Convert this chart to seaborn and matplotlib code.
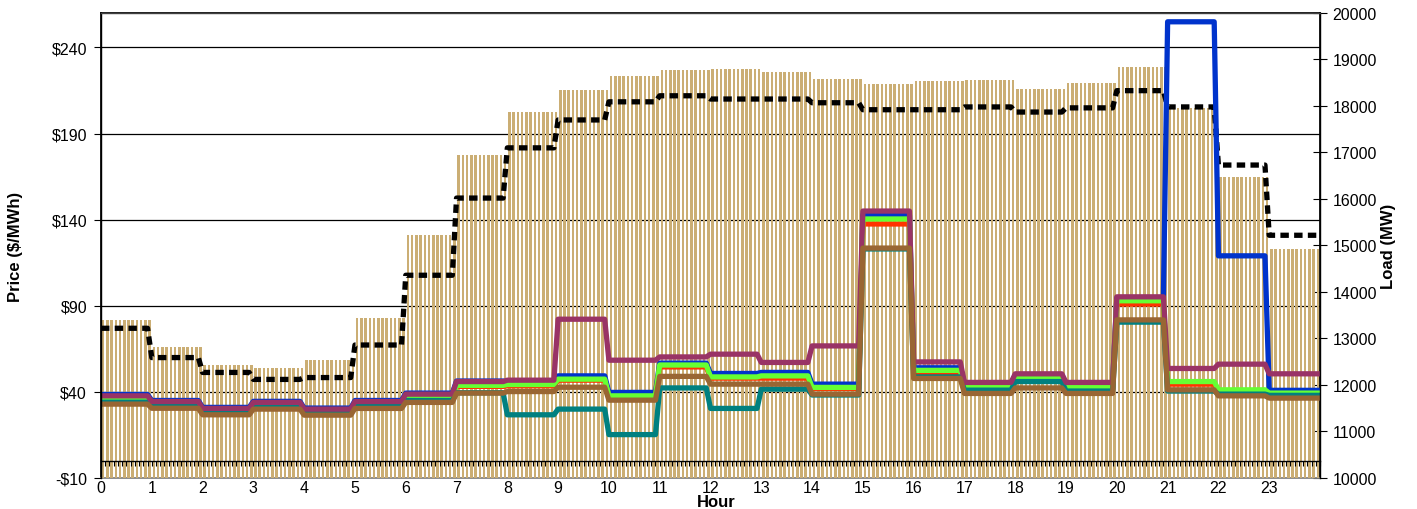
import numpy as np
import pandas as pd
import matplotlib
matplotlib.use("Agg")
import matplotlib.pyplot as plt
import matplotlib.transforms as mtransforms
from matplotlib.ticker import FixedLocator, MultipleLocator, FuncFormatter
import seaborn as sns

# hourly values
hours = list(range(24))

load_mw = [13390, 12810, 12440, 12360, 12530, 13440, 15220, 16950, 17870, 18350,
           18650, 18780, 18800, 18740, 18590, 18480, 18540, 18560, 18370, 18500,
           18840, 17960, 16470, 14920]
load_dashed = [13220, 12590, 12270, 12120, 12160, 12860, 14360, 16020, 17100, 17700,
               18090, 18220, 18150, 18150, 18070, 17920, 17920, 17980, 17870, 17960,
               18330, 17980, 16730, 15220]

price_blue = [38.5, 35, 31, 34.5, 30.6, 35, 39.3, 46.3, 45.6, 49.3, 39.7, 56.7,
              50.7, 51.3, 44.5, 142.7, 54, 44.8, 49.8, 44.8, 94.5, 254.9, 119, 40.9]
price_red = [36.9, 33.5, 29.5, 33, 29.2, 33.6, 36.5, 43.2, 43.5, 46.8, 37.2, 54.5,
             48, 48, 42, 137.5, 51, 42.3, 47.6, 41.6, 91, 44.5, 40, 38.8]
price_green = [35.8, 33, 29, 32.5, 28.8, 33, 36, 43.8, 44.3, 47.4, 37.7, 55.6,
               48.7, 49.3, 42.6, 140.4, 52.5, 43.3, 48.3, 42.5, 92.9, 46, 41.2, 39.3]
price_teal = [34, 32.1, 28.2, 31.5, 27.8, 32, 35, 39.5, 26.7, 30, 15.2, 42.3,
              30.4, 41.6, 38.2, 123, 48.7, 41, 46, 40.5, 80.5, 40.5, 38.7, 38]
price_purple = [37.7, 34.4, 30.4, 33.9, 30, 34.4, 38.7, 46, 46.8, 82.2, 58.4, 60.3,
                61.9, 57.1, 66.7, 145, 57.4, 45.5, 50.5, 45.5, 95.2, 53.6, 56.1, 50.5]
price_brown = [32.9, 30.5, 26.7, 30, 26.5, 30.4, 33.9, 39.3, 40.2, 42.7, 35.2, 49,
               44.5, 44.5, 38.7, 123.5, 47.8, 39.1, 42.3, 39.1, 81.8, 41.2, 37.7, 36.4]

series_names = ["blue", "red", "green", "teal", "purple", "brown"]
series_colors = ["#0033CC", "#FF3300", "#66FF33", "#008080", "#993366", "#996633"]
series_values = [price_blue, price_red, price_green, price_teal, price_purple, price_brown]

price_ticks = [-10, 40, 90, 140, 190, 240]
load_ticks = list(range(10000, 20001, 1000))

# 5-minute resolution, 12 intervals per hour
steps = 12
x_line = np.arange(24 * steps + 1) / steps
x_bar = (np.arange(24 * steps) + 0.5) / steps


def expand(v):
    v = np.repeat(np.asarray(v, dtype=float), steps)
    return np.append(v, v[-1])


bars = pd.DataFrame({"x": x_bar, "load": np.repeat(load_mw, steps)})
lines = pd.concat([pd.DataFrame({"x": x_line, "price": expand(v), "series": n})
                   for n, v in zip(series_names, series_values)], ignore_index=True)

sns.set_theme(style="white")
plt.rcParams["font.family"] = ["Liberation Sans", "DejaVu Sans"]
plt.rcParams["text.color"] = "black"
plt.rcParams["xtick.color"] = "black"
plt.rcParams["ytick.color"] = "black"
plt.rcParams["axes.labelcolor"] = "black"

fig = plt.figure(figsize=(14.17, 5.10), dpi=100)
ax = fig.add_axes([101 / 1417, 1 - 479 / 510, 1219 / 1417, 465 / 510])
ax2 = ax.twinx()
ax.set_zorder(ax2.get_zorder() + 1)
ax.patch.set_visible(False)

# price gridlines sit behind the load bars
trans = mtransforms.blended_transform_factory(ax2.transAxes, ax.transData)
for p in price_ticks[1:]:
    ax2.plot([0, 1], [p, p], transform=trans, color="black", lw=0.9, zorder=0.5)

sns.barplot(data=bars, x="x", y="load", native_scale=True, width=0.6,
            color="#CBAE74", saturation=1, errorbar=None, linewidth=0,
            ax=ax2, zorder=3)
sns.lineplot(x=x_line, y=expand(load_dashed), color="black", lw=3.8,
             linestyle=(0, (1.6, 1.0)), dash_capstyle="butt", ax=ax2, zorder=4)

sns.lineplot(data=lines, x="x", y="price", hue="series", hue_order=series_names,
             palette=series_colors, lw=3.8, estimator=None, legend=False, ax=ax)

ax.set_xlim(0, 24)
ax.set_ylim(-10, 260)
ax2.set_ylim(10000, 20000)

ax.xaxis.set_major_locator(FixedLocator(hours))
ax.xaxis.set_minor_locator(MultipleLocator(1 / steps))
ax.yaxis.set_major_locator(FixedLocator(price_ticks))
ax.yaxis.set_major_formatter(FuncFormatter(
    lambda v, _: f"-${abs(v):.0f}" if v < 0 else f"${v:.0f}"))
ax2.yaxis.set_major_locator(FixedLocator(load_ticks))

# category axis crosses at price 0
ax.spines["bottom"].set_position(("data", 0))
for s in ax.spines.values():
    s.set_color("black")
    s.set_linewidth(1)
ax.spines["top"].set_color("#404040")
ax.tick_params(axis="x", which="both", bottom=True, direction="out", length=3.5,
               width=0.8, color="black", labelbottom=False)
ax.tick_params(axis="y", left=True, direction="out", length=5, width=0.8,
               color="black", labelcolor="black", labelsize=11.5, pad=5)

ax2.xaxis.set_visible(True)
ax2.tick_params(axis="x", which="both", bottom=False, length=0,
                labelbottom=True, labelcolor="black", labelsize=11.5, pad=1.5)
ax2.tick_params(axis="y", right=True, direction="inout", length=10, width=0.8,
                color="black", labelcolor="black", labelsize=11.5, pad=4)
ax2.spines["bottom"].set_color("#808080")
for k in ["top", "left", "right"]:
    ax2.spines[k].set_color("black")

ax.set_xlabel("")
ax.set_ylabel("Price ($/MWh)", fontsize=12, fontweight="bold", color="black")
ax.yaxis.set_label_coords(-0.064, 0.5)
ax2.set_ylabel("Load (MW)", fontsize=12, fontweight="bold", color="black")
ax2.yaxis.set_label_coords(1.050, 0.5)
ax2.set_xlabel("Hour", fontsize=12, fontweight="bold", color="black")
ax2.xaxis.set_label_coords(0.505, -0.035)

fig.savefig("out.png", dpi=100)
